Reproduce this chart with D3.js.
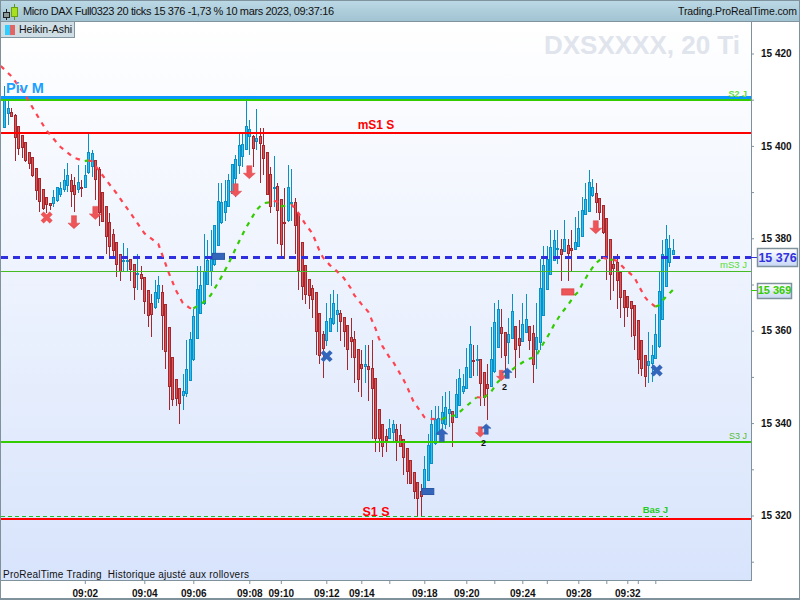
<!DOCTYPE html>
<html><head><meta charset="utf-8">
<script src="https://cdn.jsdelivr.net/npm/d3@7"></script>
<style>html,body{margin:0;padding:0;background:#fff;overflow:hidden}svg{display:block}text{font-family:"Liberation Sans",sans-serif;white-space:pre}</style>
</head><body><svg id="c" width="800" height="600"></svg>
<script>
const haHigh=[15412.9,15410.6,15408.1,15406.8,15404.4,15402.3,15400.9,15398.7,15397.5,15395.3,
15393.0,15390.6,15389.0,15387.7,15390.4,15391.2,15392.2,15395.1,15396.2,15394.0,
15393.3,15395.8,15392.6,15395.8,15402.7,15399.1,15396.9,15395.5,15390.1,15387.0,
15385.4,15382.0,15379.3,15376.7,15379.0,15377.9,15375.6,15374.5,15376.7,15374.0,
15371.6,15368.9,15367.9,15370.9,15371.8,15369.8,15365.7,15360.7,15354.2,15349.6,
15347.5,15350.7,15358.0,15359.7,15364.8,15374.0,15374.0,15380.9,15379.7,15381.9,
15382.8,15391.9,15391.9,15392.6,15394.0,15396.1,15398.0,15402.9,15402.9,15409.9,
15405.6,15402.3,15408.0,15403.8,15403.8,15398.7,15395.5,15397.8,15391.9,15388.6,
15390.8,15395.8,15394.9,15388.8,15385.4,15379.1,15374.3,15371.1,15369.8,15368.3,
15363.9,15359.9,15365.9,15368.0,15368.8,15367.9,15364.4,15363.0,15361.3,15362.8,
15359.9,15356.1,15355.9,15356.8,15356.8,15358.0,15349.8,15343.1,15339.7,15338.8,
15340.8,15340.6,15339.9,15339.9,15336.6,15334.7,15332.1,15329.5,15327.3,15326.9,
15332.8,15337.7,15342.9,15343.8,15343.8,15345.8,15346.7,15346.9,15342.6,15349.6,
15351.8,15350.7,15356.3,15361.0,15356.8,15356.8,15353.8,15351.1,15352.9,15360.7,
15365.9,15366.7,15364.8,15359.8,15362.8,15367.9,15361.1,15362.4,15365.9,15367.9,
15361.1,15361.2,15365.9,15375.6,15378.3,15378.3,15381.9,15381.9,15381.9,15379.8,
15383.9,15379.8,15381.9,15384.6,15386.0,15389.0,15391.9,15394.8,15392.8,15391.9,
15388.8,15387.3,15384.3,15379.9,15375.6,15376.7,15372.7,15368.9,15367.5,15366.4,
15365.5,15362.3,15357.9,15354.8,15359.8,15356.8,15363.7,15372.7,15379.7,15382.8,
15380.8,15379.8];
const haOpen=[15403.8,15406.8,15407.4,15406.7,15404.4,15402.3,15400.9,15398.7,15397.5,15395.3,
15393.0,15390.6,15389.0,15387.7,15387.5,15387.9,15389.3,15390.4,15391.3,15392.6,
15391.5,15390.4,15391.1,15390.8,15394.0,15395.3,15396.9,15395.1,15390.1,15387.0,
15383.6,15381.0,15379.3,15376.7,15374.9,15375.3,15375.6,15374.5,15371.9,15372.2,
15371.6,15368.9,15366.1,15364.9,15366.7,15368.3,15365.7,15360.7,15354.2,15349.6,
15347.5,15345.9,15346.3,15349.1,15353.5,15358.3,15363.6,15365.9,15370.0,15372.6,
15374.1,15378.4,15383.2,15385.6,15386.8,15389.7,15392.8,15395.8,15397.6,15399.1,
15401.8,15402.2,15400.9,15402.2,15400.3,15398.7,15394.0,15391.0,15391.3,15388.6,
15383.6,15383.6,15387.5,15387.8,15385.4,15379.1,15374.3,15371.1,15369.3,15368.3,
15363.9,15359.2,15357.6,15359.7,15361.3,15363.4,15363.9,15363.0,15361.3,15358.6,
15358.1,15356.1,15352.7,15352.2,15352.4,15352.0,15349.8,15343.1,15339.7,15337.3,
15336.6,15337.8,15338.8,15337.5,15336.6,15334.7,15332.1,15329.5,15327.3,15325.4,
15325.0,15327.5,15331.1,15335.3,15337.4,15339.7,15339.6,15342.1,15342.6,15341.3,
15343.7,15346.7,15347.4,15349.8,15353.6,15353.5,15353.8,15351.1,15348.4,15347.8,
15350.9,15356.3,15360.7,15359.8,15357.2,15358.2,15361.1,15358.5,15357.6,15359.6,
15361.1,15359.4,15355.8,15357.4,15363.3,15368.9,15372.1,15375.1,15377.6,15377.6,
15377.1,15378.6,15377.8,15377.4,15378.2,15380.2,15385.2,15385.7,15389.0,15389.9,
15388.8,15387.3,15384.3,15379.9,15374.5,15374.8,15372.7,15368.9,15367.5,15366.4,
15365.5,15362.3,15357.9,15354.8,15352.4,15352.8,15353.8,15356.3,15362.4,15369.5,
15374.7,15376.4];
const haClose=[15409.9,15408.1,15406.3,15401.8,15399.4,15399.4,15396.8,15396.2,15393.3,15390.4,
15387.9,15386.2,15387.2,15387.0,15389.0,15391.0,15390.8,15392.6,15393.7,15390.1,
15389.3,15392.1,15390.6,15393.7,15398.6,15398.4,15392.6,15385.5,15383.6,15380.3,
15378.2,15377.4,15374.3,15372.9,15375.4,15375.4,15373.3,15369.3,15372.4,15371.2,
15366.2,15363.2,15363.6,15368.3,15369.8,15363.0,15355.4,15347.8,15345.0,15345.2,
15344.1,15347.0,15351.8,15358.1,15363.1,15369.1,15369.8,15373.0,15375.4,15375.5,
15382.8,15388.1,15387.8,15388.1,15392.6,15396.1,15397.1,15400.3,15400.5,15404.3,
15403.6,15399.3,15401.8,15400.4,15397.3,15389.3,15386.8,15391.1,15385.9,15378.6,
15383.5,15391.0,15387.9,15382.7,15372.9,15369.3,15367.8,15367.5,15366.8,15359.6,
15354.7,15356.0,15362.0,15362.8,15365.9,15364.4,15361.9,15359.7,15355.8,15357.6,
15354.0,15349.4,15351.6,15352.9,15351.6,15347.4,15336.6,15336.6,15334.8,15336.3,
15339.0,15339.7,15336.3,15335.0,15332.4,15329.4,15326.8,15325.1,15323.6,15324.2,
15330.1,15335.2,15339.7,15340.8,15341.0,15342.3,15343.4,15343.1,15340.0,15346.4,
15349.8,15348.1,15352.2,15357.2,15353.5,15353.8,15348.4,15345.5,15347.4,15353.8,
15361.8,15364.8,15359.2,15354.7,15359.2,15364.2,15355.8,15356.7,15361.5,15362.6,
15357.8,15352.5,15358.7,15369.3,15374.3,15375.6,15378.2,15379.7,15377.8,15376.3,
15379.9,15376.7,15377.1,15379.1,15382.3,15386.1,15388.6,15392.1,15391.0,15387.7,
15385.6,15381.2,15375.6,15372.2,15373.4,15370.7,15367.0,15365.1,15364.9,15364.6,
15358.7,15353.7,15351.7,15350.0,15353.4,15354.7,15359.2,15368.5,15376.7,15379.9,
15378.0,15377.4];
const haLow=[15403.8,15404.5,15406.3,15396.7,15398.0,15397.3,15396.6,15395.1,15393.3,15388.3,
15385.7,15386.2,15385.4,15386.1,15386.8,15387.9,15389.0,15390.1,15390.1,15386.7,
15385.7,15389.7,15389.0,15390.8,15394.0,15393.3,15388.3,15382.6,15383.6,15376.6,
15375.6,15375.6,15371.6,15370.7,15372.9,15372.9,15370.7,15366.6,15368.8,15368.8,
15363.6,15360.8,15358.7,15364.6,15365.9,15355.8,15351.7,15342.8,15343.7,15343.7,
15339.7,15342.8,15345.7,15349.1,15353.5,15358.3,15363.6,15365.5,15370.0,15369.7,
15374.1,15378.4,15383.2,15383.8,15386.8,15389.7,15389.0,15394.0,15395.5,15399.1,
15398.0,15395.5,15399.1,15391.9,15393.7,15389.3,15385.4,15386.8,15378.7,15376.0,
15375.6,15383.6,15383.8,15376.6,15368.8,15366.6,15365.7,15364.6,15362.8,15354.7,
15352.7,15349.8,15356.6,15359.7,15361.3,15359.7,15357.8,15356.5,15351.6,15354.0,
15348.7,15346.7,15345.7,15348.7,15344.8,15336.6,15333.7,15333.7,15332.7,15333.8,
15336.6,15335.9,15331.8,15335.0,15328.7,15326.9,15326.8,15323.6,15319.7,15319.7,
15325.0,15327.5,15331.1,15335.3,15337.4,15338.4,15338.8,15339.2,15334.8,15341.3,
15343.7,15346.4,15347.4,15349.8,15350.1,15350.1,15343.7,15343.7,15340.6,15347.8,
15350.9,15356.3,15354.0,15349.8,15352.7,15358.2,15349.8,15354.0,15357.6,15359.6,
15355.8,15348.7,15351.7,15355.8,15363.3,15368.9,15372.1,15375.1,15374.5,15370.8,
15377.1,15370.8,15372.7,15377.4,15378.2,15380.2,15385.2,15385.7,15389.0,15385.4,
15383.9,15381.0,15370.9,15366.7,15368.6,15364.8,15362.8,15360.8,15363.0,15358.7,
15355.8,15350.7,15350.1,15347.8,15348.6,15348.8,15353.8,15356.3,15362.4,15369.5,
15373.8,15376.4];
const maIdx=[-1,2,6,9,12,16,20,23,24,25,28,32,36,40,44,46,47,49,51,53,54,57,59,62,64,67,69,72,74,76,77,78,79,80,81,82,84,86,88,90,91,93,95,97,99,100,102,104,105,106,107,108,110,111,113,114,115,117,118,120,122,125,126,129,131,133,135,137,139,141,143,146,149,152,153,156,157,159,161,162,163,164,165,167,168,169,171,172,173,174,175,177,180,181,183,184,186,187,189,191];
const maVal=[15417.3,15415.1,15411.0,15407.1,15403.4,15399.8,15397.4,15396.7,15396.85,15396.7,15393.7,15389.8,15385.5,15381.1,15378.8,15374.6,15372.5,15368.8,15366.0,15364.9,15364.8,15366.2,15367.7,15371.6,15374.4,15379.2,15382.2,15386.1,15387.6,15387.8,15388.1,15387.9,15386.9,15387.0,15387.1,15387.4,15385.5,15383.1,15381.1,15377.4,15375.9,15374.2,15372.9,15371.4,15369.2,15367.7,15365.8,15364.1,15362.3,15360.6,15358.4,15356.7,15354.3,15353.4,15350.8,15349.5,15348.0,15344.5,15343.5,15341.3,15340.9,15340.8,15341.2,15341.7,15343.0,15344.3,15345.6,15345.5,15346.7,15348.9,15350.2,15352.1,15353.6,15354.5,15356.0,15359.7,15361.2,15363.6,15365.5,15366.6,15367.7,15368.4,15369.9,15372.5,15373.6,15374.6,15375.8,15375.6,15375.3,15375.4,15375.1,15373.6,15371.6,15370.1,15367.3,15366.4,15365.2,15365.5,15367.3,15368.8];
const levelNames=["pivot","s2","ms1","last","ms3","s3","bas","s1"];
const levelVals=[15410.6,15410.0,15402.9,15375.9,15372.9,15335.9,15319.8,15319.2];
const levelColors=["#0a96ff","#33cc00","#ff0000","#2f2fe0","#44bb22","#33cc00","#22bb22","#ff0000"];
const levelWidths=[3,2,2,3,1,2,1,2];
const levelDash=[null,null,null,"7,5",null,null,"4,3",null];
const levelEnd=[191,191,191,191,191,191,186,191];
const markKind=["xr","dn","dn","dn","dn","rb","xb","rb","ub","ds","us","ds","us","rr","dn","xb"];
const markIdx=[12.1,19.9,26,66.1,70,61.2,92.1,121,125,136,137.7,142,143.7,161,169,186.4];
const markVal=[15384.5,15383.5,15385.5,15390.4,15394.3,15376.2,15354.5,15325.3,15337.4,15338.1,15338.7,15350.3,15350.8,15368.5,15382.4,15351.4];
const xTickIdx=[23,40,54,70,79,92,102,110,120,132,140,148,155,164,172,178,181,186];
const xTickLab=["09:02","09:04","09:06","09:08","09:10","09:12","09:14","","09:18","09:20","","09:24","","09:28","","09:32","",""];
const yTicks=[15420,15410,15400,15390,15380,15370,15360,15350,15340,15330,15320,15310];
const titleText="Micro DAX Full0323 20 ticks 15 376 -1,73 % 10 mars 2023, 09:37:16";

const svg=d3.select("#c");
const x=d3.scaleLinear().domain([0,191]).range([4.3,672.8]);
const y=d3.scaleLinear().domain([15420,15320]).range([53.5,515.5]);
const L=1,R=751,T=22,B=580;
const defs=svg.append("defs");
function grad(id,a,b){const g=defs.append("linearGradient").attr("id",id).attr("x1",0).attr("y1",0).attr("x2",0).attr("y2",1);
 g.append("stop").attr("offset",0).attr("stop-color",a);g.append("stop").attr("offset",1).attr("stop-color",b);}
grad("bg","#ffffff","#d8e4fc");grad("bar","#bcd9e6","#a2c3d2");grad("box","#ffffff","#c6d6f4");
svg.append("rect").attr("width",800).attr("height",600).attr("fill","#fff");
svg.append("rect").attr("x",L).attr("y",T).attr("width",R-L).attr("height",B-T).attr("fill","url(#bg)");
// title bar
svg.append("rect").attr("width",800).attr("height",21).attr("fill","url(#bar)");
svg.append("rect").attr("y",21).attr("width",800).attr("height",1).attr("fill","#7f949f");
svg.append("rect").attr("width",800).attr("height",1).attr("fill","#7f949f");
svg.append("line").attr("x1",6.5).attr("x2",6.5).attr("y1",9).attr("y2",20).attr("stroke","#222");
svg.append("rect").attr("x",3.5).attr("y",12.5).attr("width",6).attr("height",5).attr("fill","#8a9a9a").attr("stroke","#222");
svg.append("line").attr("x1",14.5).attr("x2",14.5).attr("y1",4).attr("y2",20).attr("stroke","#5a9a10");
svg.append("rect").attr("x",11.5).attr("y",7.5).attr("width",6).attr("height",9).attr("fill","#a8e020").attr("stroke","#6aa010");
svg.append("text").attr("x",23).attr("y",14.5).attr("font-size",11).attr("textLength",311).attr("lengthAdjust","spacing").attr("fill","#111").text(titleText);
svg.append("text").attr("x",678).attr("y",14.5).attr("font-size",10.5).attr("textLength",119).attr("lengthAdjust","spacing").attr("fill","#111").text("Trading.ProRealTime.com");
// tab
svg.append("rect").attr("x",.5).attr("y",21.5).attr("width",74).attr("height",16).attr("fill","#cfdde5").attr("stroke","#8296a1");
svg.append("rect").attr("x",5).attr("y",25).attr("width",5).attr("height",10).attr("fill","#33ccff");
svg.append("rect").attr("x",10).attr("y",25).attr("width",5).attr("height",10).attr("fill","#e06666");
svg.append("text").attr("x",19).attr("y",33).attr("font-size",10.5).attr("fill","#111").text("Heikin-Ashi");
// watermark
svg.append("text").attr("x",740).attr("y",54).attr("text-anchor","end").attr("font-size",26).attr("font-weight","bold").attr("fill","#e0e4ec").text("DXSXXXX, 20 Ti");

// candles
const C={up:{s:"#0a90c4",f:"#2fc0f0"},dn:{s:"#a3282d",f:"#e05558"}};
const idx=d3.range(haOpen.length);
const px=i=>Math.round(x(i));
const g=svg.append("g");
g.selectAll("line.w").data(idx).join("line").attr("x1",i=>px(i)+.5).attr("x2",i=>px(i)+.5)
 .attr("y1",i=>Math.round(y(haHigh[i]))).attr("y2",i=>Math.round(y(haLow[i])))
 .attr("stroke",i=>haClose[i]>=haOpen[i]?C.up.s:C.dn.s);
g.selectAll("rect").data(idx).join("rect").attr("x",i=>px(i)-.5).attr("width",2)
 .attr("y",i=>Math.round(y(Math.max(haOpen[i],haClose[i])))+.5)
 .attr("height",i=>Math.max(1,Math.round(Math.abs(y(haOpen[i])-y(haClose[i])))-1))
 .attr("fill",i=>haClose[i]>=haOpen[i]?C.up.f:C.dn.f)
 .attr("stroke",i=>haClose[i]>=haOpen[i]?C.up.s:C.dn.s);

// horizontal levels
const plot=svg.append("g");
levelVals.forEach((v,k)=>{
 const yy=Math.round(y(v))+(levelWidths[k]%2?.5:0);
 plot.append("line").attr("x1",L).attr("x2",levelEnd[k]==191?R:x(levelEnd[k])+(668-x(186))).attr("y1",yy).attr("y2",yy)
  .attr("stroke",levelColors[k]).attr("stroke-width",levelWidths[k]).attr("stroke-dasharray",levelDash[k]);
});

// moving average: falling red, rising green
const runs=[];let cur=null;
for(let i=1;i<maVal.length;i++){const col=maVal[i]>=maVal[i-1]?"#33cc00":"#ff4450";
 if(!cur||cur.col!==col){cur={col,pts:[i-1]};runs.push(cur);} cur.pts.push(i);}
const ln=d3.line().x(i=>x(maIdx[i])).y(i=>y(maVal[i]));
svg.append("clipPath").attr("id","pc").append("rect").attr("x",L).attr("y",T).attr("width",R-L).attr("height",B-T);
svg.append("g").attr("clip-path","url(#pc)").selectAll("path").data(runs).join("path").attr("fill","none")
 .attr("stroke",d=>d.col).attr("stroke-width",2.2).attr("stroke-dasharray","4.5,5.5").attr("d",d=>ln(d.pts));

// markers
const RED="#ee5558",BLU="#3366bb";
const mg=svg.append("g");
markKind.forEach((k,i)=>{
 const t=mg.append("g").attr("transform",`translate(${x(markIdx[i])},${y(markVal[i])})`);
 if(k=="dn"||k=="ds"||k=="ub"||k=="us"){
  const big=k=="dn"||k=="ub",s=big?1:.8,d=(k=="dn"||k=="ds")?1:-1;
  t.append("path").attr("d",`M${-2.5*s},${-6.5*s*d}L${2.5*s},${-6.5*s*d}L${2.5*s},${1*s*d}L${6*s},${1*s*d}L0,${6.5*s*d}L${-6*s},${1*s*d}L${-2.5*s},${1*s*d}Z`)
   .attr("fill",d>0?RED:BLU).attr("stroke",d>0?"#d84448":"#2a58a8").attr("stroke-width",.5);
 } else if(k=="xr"||k=="xb"){
  t.append("path").attr("d","M-4.5,-4.5L4.5,4.5M4.5,-4.5L-4.5,4.5").attr("stroke",k=="xr"?RED:BLU).attr("stroke-width",4.2).attr("stroke-linecap","butt");
 } else {
  t.append("rect").attr("x",-6).attr("y",-2.5).attr("width",12).attr("height",6).attr("fill",k=="rr"?RED:BLU).attr("stroke",k=="rr"?"#e04448":"#2a58a8");
 }
});
// annotation "2" under the arrow pairs
[[15338.1,136.9],[15350.3,142.9]].forEach(([v,i],k)=>{
 svg.append("text").attr("x",x(i)).attr("y",y(v)+14.5).attr("text-anchor","middle").attr("font-size",9).attr("font-weight","bold").attr("fill","#111").text("2");
});

// level labels
function lab(t,xx,v,dy,fs,col,w,anchor){svg.append("text").attr("x",xx).attr("y",y(v)+dy).attr("font-size",fs).attr("font-weight",w||"bold").attr("fill",col).attr("text-anchor",anchor||"start").text(t);}
lab("Piv M",6,15410.6,-4,14.5,"#1aa0ff");
lab("mS1 S",376,15402.9,-4,12,"#ff0000","bold","middle");
lab("S1 S",376,15319.2,-3.5,12.5,"#ff0000","bold","middle");
lab("S2 J",747,15410.6,0,9,"#66dd44","bold","end");
lab("mS3 J",747,15372.9,-3,9.5,"#55dd33","normal","end");
lab("S3 J",747,15335.9,-3,9,"#55bb33","normal","end");
lab("Bas J",668,15319.8,-3.5,9.5,"#22cc22","bold","end");
svg.append("text").attr("x",3).attr("y",578).attr("font-size",10).attr("fill","#111").attr("textLength",246).attr("lengthAdjust","spacing").text("ProRealTime Trading  Historique ajusté aux rollovers");

// axes
const axR=d3.axisRight(y).tickValues(yTicks).tickSize(3).tickPadding(7).tickFormat(v=>v%20===0?d3.format(",")(v).replace(","," "):"");
const ar=svg.append("g").attr("transform",`translate(${R},0)`).call(axR);
const axB=d3.axisBottom(x).tickValues(xTickIdx).tickSize(4).tickPadding(6).tickFormat(v=>xTickLab[xTickIdx.indexOf(v)]);
const ab=svg.append("g").attr("transform",`translate(0,${B})`).call(axB);
[ar,ab].forEach(a=>{a.selectAll("path.domain").remove();a.selectAll("line").attr("stroke","#7f929c");
 a.selectAll("text").attr("font-size",10).attr("font-weight","bold").attr("fill","#111").style("font-family","'Liberation Sans',sans-serif");});
svg.append("rect").attr("x",R).attr("y",T).attr("width",1).attr("height",B-T+1).attr("fill","#7f929c");
svg.append("rect").attr("x",L).attr("y",B).attr("width",R-L).attr("height",1).attr("fill","#7f929c");
svg.append("rect").attr("x",0).attr("y",0).attr("width",1).attr("height",600).attr("fill","#7f929c");
svg.append("rect").attr("x",799).attr("y",0).attr("width",1).attr("height",600).attr("fill","#7f929c");
svg.append("rect").attr("x",0).attr("y",598).attr("width",800).attr("height",2).attr("fill","#7f929c");

// value boxes
function box(t,bx,v,w,h,col,fs){const c=y(v);
 svg.append("line").attr("x1",R).attr("x2",bx).attr("y1",Math.round(c)+.5).attr("y2",Math.round(c)+.5).attr("stroke",col);
 svg.append("rect").attr("x",bx+.5).attr("y",Math.round(c-h/2)+.5).attr("width",w).attr("height",h).attr("fill","url(#box)").attr("stroke","#7f929c").attr("stroke-width",1.5);
 svg.append("text").attr("x",bx+w/2+.5).attr("y",c+fs*.37).attr("text-anchor","middle").attr("font-size",fs).attr("font-weight","bold").attr("fill",col).text(t);}
box("15 376",757,15375.9,40,18,"#3333dd",12.5);
box("15 369",757,15368.8,34,15,"#33cc00",11);
</script></body></html>
